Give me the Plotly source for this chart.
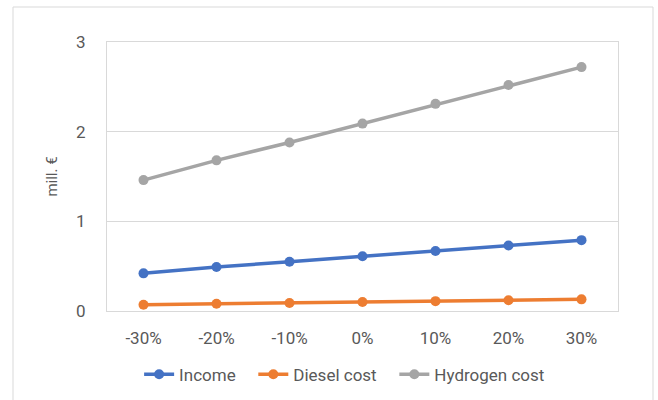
import plotly.graph_objects as go

categories = ["-30%", "-20%", "-10%", "0%", "10%", "20%", "30%"]
income = [0.42, 0.49, 0.55, 0.61, 0.67, 0.73, 0.79]
diesel_cost = [0.07, 0.08, 0.09, 0.10, 0.11, 0.12, 0.13]
hydrogen_cost = [1.46, 1.68, 1.88, 2.09, 2.31, 2.52, 2.72]

series = [
    ("Income", income, "#4472C4"),
    ("Diesel cost", diesel_cost, "#ED7D31"),
    ("Hydrogen cost", hydrogen_cost, "#A5A5A5"),
]

# trailing no-break spaces widen the gap between legend entries
GAP = "\u00a0" * 3

fig = go.Figure()
for i, (name, vals, color) in enumerate(series):
    label = name + (GAP if i < len(series) - 1 else "")
    fig.add_trace(go.Scatter(
        x=categories, y=vals, name=label, mode="lines+markers",
        line=dict(color=color, width=3.5),
        marker=dict(color=color, size=10),
    ))

W, H = 658, 400
ml, mr, mt, mb = 107, 40, 42, 89
pw, ph = W - ml - mr, H - mt - mb

def px_x(p):
    return (p - ml) / pw

def px_y(p):
    return (H - mb - p) / ph

fig.update_layout(
    width=W, height=H,
    margin=dict(l=ml, r=mr, t=mt, b=mb, autoexpand=False),
    paper_bgcolor="white", plot_bgcolor="white",
    font=dict(family="Roboto", size=15, color="#595959"),
    showlegend=True,
    legend=dict(orientation="h", x=0.465, xanchor="center", y=-0.17, yanchor="top",
                font=dict(size=17, color="#595959"), itemwidth=30,
                traceorder="normal"),
    xaxis=dict(type="category", range=[-0.5, 6.5], showgrid=False,
               showline=True, linecolor="#D9D9D9", linewidth=1, mirror=True,
               ticks="", tickfont=dict(size=17), zeroline=False,
               ticklabelstandoff=12, automargin=False),
    yaxis=dict(range=[0, 3], dtick=1, showgrid=True, gridcolor="#D9D9D9",
               showline=True, linecolor="#D9D9D9", linewidth=1, mirror=True,
               ticks="", tickfont=dict(size=17), zeroline=False,
               ticklabelstandoff=17, automargin=False,
               title=dict(text="mill. €", font=dict(size=15), standoff=14)),
    shapes=[dict(type="rect", xref="paper", yref="paper",
                 x0=px_x(13), x1=px_x(653), y0=px_y(430), y1=px_y(7),
                 line=dict(color="#D9D9D9", width=1), fillcolor="rgba(0,0,0,0)",
                 layer="below")],
)

fig.write_html("out.html")
